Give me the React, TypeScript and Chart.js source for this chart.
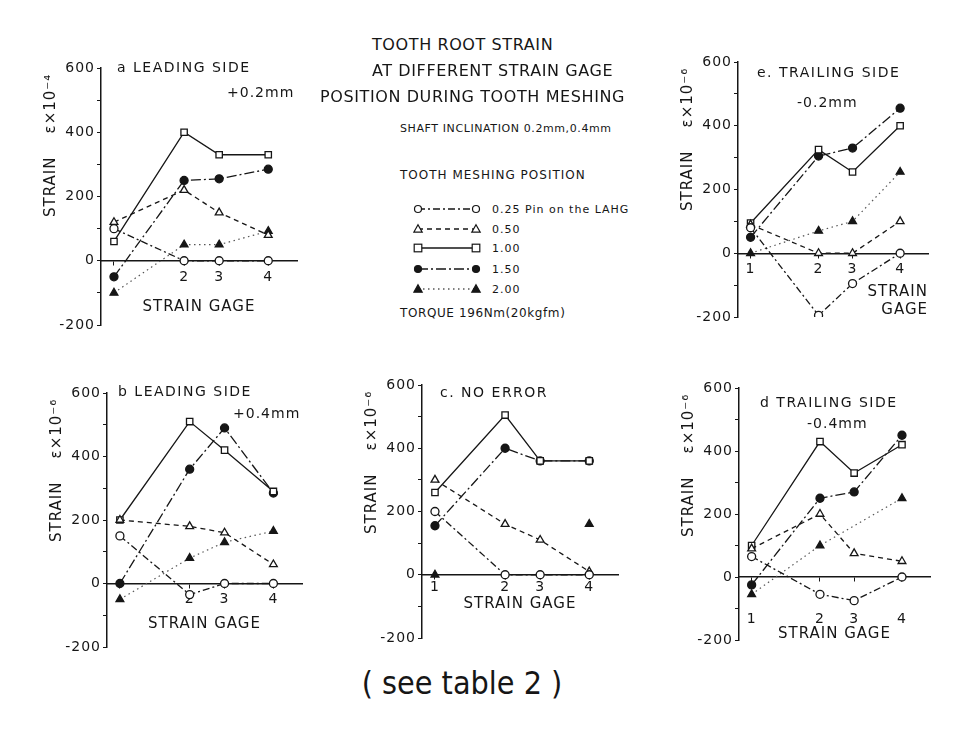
import React, { useEffect, useRef } from 'react';
import { Chart, registerables } from 'chart.js';

Chart.register(...registerables);

const FONT = '"DejaVu Sans", "Liberation Sans", Arial, sans-serif';
const INK = '#161616';

// strain gage positions along the tooth root (gage 2-3-4 are closer together)
const gaugeLabels = ['1', '2', '3', '4'];
const gaugePos = [1, 3, 4, 5.4];
const yMin = -200;
const yMax = 600;
const yStep = 100;
const yLabelStep = 200;

// tooth meshing positions (legend)
const meshLabels = ['0.25 Pin on the LAHG', '0.50', '1.00', '1.50', '2.00'];

// a. leading side +0.2mm
const a025 = [100, 0, 0, 0];
const a050 = [120, 220, 150, 80];
const a100 = [60, 400, 330, 330];
const a150 = [-50, 250, 255, 285];
const a200 = [-100, 50, 50, 92];

// b. leading side +0.4mm
const b025 = [150, -35, 0, 0];
const b050 = [200, 180, 160, 60];
const b100 = [200, 510, 420, 290];
const b150 = [0, 360, 490, 285];
const b200 = [-50, 80, 130, 165];

// c. no error
const c025 = [200, 0, 0, 0];
const c050 = [300, 160, 110, 10];
const c100 = [260, 505, 360, 360];
const c150 = [155, 400, 360, 360];
const c200 = [0, null, null, 160];

// d. trailing side -0.4mm
const d025 = [65, -55, -75, 0];
const d050 = [90, 200, 75, 50];
const d100 = [100, 430, 330, 420];
const d150 = [-25, 250, 270, 450];
const d200 = [-55, 100, null, 250];

// e. trailing side -0.2mm
const e025 = [80, -195, -95, 0];
const e050 = [90, 0, 0, 100];
const e100 = [95, 325, 255, 400];
const e150 = [50, 305, 330, 455];
const e200 = [0, 70, 100, 255];

const seriesStyles = [
  { point: 'circle', fill: false, dash: [7, 3, 2, 3], r: 4 },
  { point: 'triangle', fill: false, dash: [5, 4], r: 4.5 },
  { point: 'rect', fill: false, dash: [], r: 4.5 },
  { point: 'circle', fill: true, dash: [10, 3, 2, 3], r: 4 },
  { point: 'triangle', fill: true, dash: [1.5, 3.5], r: 4.5 },
];

type Panel = {
  id: string;
  series: (number | null)[][];
  xLabels: string[];
  yTitle: string;
  xTitle: string | string[];
  xTitleAlign: 'center' | 'end';
  l: number; r: number; t: number; b: number;
  tickPad: number;
  xTitleH: number;
  spanGaps: boolean;
};

const Y_W = 59;
const PAD_T = 12;
const PAD_R = 10;
const PAD_B = 14;

const panels: Panel[] = [
  { id: 'a', series: [a025, a050, a100, a150, a200], xLabels: ['', '2', '3', '4'],
    yTitle: 'STRAIN    ε×10⁻⁴ ', xTitle: 'STRAIN GAGE', xTitleAlign: 'center',
    l: 101, r: 297, t: 68, b: 325, tickPad: 4, xTitleH: 55, spanGaps: true },
  { id: 'b', series: [b025, b050, b100, b150, b200], xLabels: ['', '2', '3', '4'],
    yTitle: 'STRAIN    ε×10⁻⁶ ', xTitle: 'STRAIN GAGE', xTitleAlign: 'center',
    l: 107, r: 302, t: 393, b: 647, tickPad: 3, xTitleH: 50, spanGaps: true },
  { id: 'c', series: [c025, c050, c100, c150, c200], xLabels: gaugeLabels,
    yTitle: 'STRAIN    ε×10⁻⁶ ', xTitle: 'STRAIN GAGE', xTitleAlign: 'center',
    l: 422, r: 618, t: 385, b: 638, tickPad: 0, xTitleH: 38, spanGaps: false },
  { id: 'd', series: [d025, d050, d100, d150, d200], xLabels: gaugeLabels,
    yTitle: 'STRAIN    ε×10⁻⁶ ', xTitle: 'STRAIN GAGE', xTitleAlign: 'center',
    l: 739, r: 930, t: 388, b: 640, tickPad: 30, xTitleH: 66, spanGaps: true },
  { id: 'e', series: [e025, e050, e100, e150, e200], xLabels: gaugeLabels,
    yTitle: 'STRAIN    ε×10⁻⁶ ', xTitle: ['STRAIN', 'GAGE'], xTitleAlign: 'end',
    l: 738, r: 928, t: 62, b: 317, tickPad: 4, xTitleH: 66, spanGaps: true },
];

const spacingPlugin = {
  id: 'letterSpacing',
  beforeDraw(chart: any) { chart.ctx.letterSpacing = '1px'; },
  afterDraw(chart: any) { chart.ctx.letterSpacing = '0px'; },
};

function StrainPanel({ p }: { p: Panel }) {
  const ref = useRef<HTMLCanvasElement | null>(null);
  const left = p.l - Y_W;
  const top = p.t - PAD_T;
  const width = p.r - p.l + Y_W + PAD_R;
  const height = p.b - p.t + PAD_T + PAD_B;

  useEffect(() => {
    if (!ref.current) return;
    const chart = new Chart(ref.current, {
      type: 'line',
      data: {
        datasets: p.series.map((vals, si) => {
          const st = seriesStyles[si];
          return {
            label: meshLabels[si],
            data: vals.map((v, i) => ({ x: gaugePos[i], y: v })),
            borderColor: si === 4 ? '#555' : INK,
            borderWidth: si === 4 ? 1.2 : 1.3,
            borderDash: st.dash,
            pointStyle: st.point,
            pointRadius: st.r,
            pointBackgroundColor: st.fill ? INK : '#ffffff',
            pointBorderColor: INK,
            pointBorderWidth: 1.3,
            tension: 0,
            fill: false,
            spanGaps: p.spanGaps,
          } as any;
        }),
      },
      options: {
        animation: false,
        responsive: false,
        devicePixelRatio: 1,
        layout: { padding: { left: 0, top: PAD_T, right: PAD_R, bottom: PAD_B } },
        plugins: { legend: { display: false }, tooltip: { enabled: false } },
        scales: {
          x: {
            type: 'linear',
            position: { y: 0 } as any,
            min: 0.63,
            max: 6.22,
            afterBuildTicks: (s: any) => { s.ticks = gaugePos.map((v) => ({ value: v })); },
            afterFit: (s: any) => { s.height = p.xTitleH; },
            grid: { drawOnChartArea: false, drawTicks: true, tickLength: 4, color: INK },
            border: { display: true, color: INK, width: 1.5 },
            ticks: {
              autoSkip: false, maxRotation: 0, padding: p.tickPad, color: INK,
              font: { family: FONT, size: 14 },
              callback: (_v: any, i: number) => p.xLabels[i],
            },
            title: {
              display: true, text: p.xTitle, align: p.xTitleAlign, color: INK,
              font: { family: FONT, size: 15 }, padding: 0,
            },
          },
          y: {
            type: 'linear',
            position: 'left',
            min: yMin,
            max: yMax,
            afterFit: (s: any) => { s.width = Y_W; },
            grid: { drawOnChartArea: false, drawTicks: true, tickLength: 4, color: INK },
            border: { display: true, color: INK, width: 1.5 },
            ticks: {
              stepSize: yStep, autoSkip: false, padding: 2, color: INK,
              font: { family: FONT, size: 14 },
              callback: (v: any) => (Number(v) % yLabelStep === 0 ? String(v) : ''),
            },
            title: {
              display: true, text: p.yTitle, align: 'end', color: INK,
              font: { family: FONT, size: 15 }, padding: 0,
            },
          },
        },
      } as any,
      plugins: [spacingPlugin],
    });
    return () => chart.destroy();
  }, [p]);

  return (
    <canvas
      ref={ref}
      width={width}
      height={height}
      style={{ position: 'absolute', left, top, width, height }}
    />
  );
}

function Txt({ x, y, size, ls = 1, center = false, children, family }: any) {
  return (
    <div
      style={{
        position: 'absolute', left: x, top: y,
        transform: center ? 'translate(-50%, -50%)' : 'translateY(-50%)',
        fontSize: size, lineHeight: 1, letterSpacing: ls, whiteSpace: 'pre',
        fontFamily: family || FONT, color: INK,
      }}
    >
      {children}
    </div>
  );
}

function LegendSample({ idx, y }: { idx: number; y: number }) {
  const st = seriesStyles[idx];
  const x1 = 5, x2 = 63, cy = 7;
  const fill = st.fill ? INK : '#fff';
  const marker = (cx: number) => {
    if (st.point === 'circle') return <circle cx={cx} cy={cy} r={3.5} fill={fill} stroke={INK} strokeWidth={1.2} />;
    if (st.point === 'rect') return <rect x={cx - 3.8} y={cy - 3.8} width={7.6} height={7.6} fill={fill} stroke={INK} strokeWidth={1.2} />;
    return <polygon points={`${cx},${cy - 4.2} ${cx + 4.2},${cy + 3.2} ${cx - 4.2},${cy + 3.2}`} fill={fill} stroke={INK} strokeWidth={1.2} />;
  };
  return (
    <svg width={70} height={14} style={{ position: 'absolute', left: 413, top: y - 7 }}>
      <line x1={x1} y1={cy} x2={x2} y2={cy} stroke={idx === 4 ? '#555' : INK} strokeWidth={1.3}
        strokeDasharray={st.dash.length ? st.dash.join(' ') : undefined} />
      {marker(x1)}
      {marker(x2)}
    </svg>
  );
}

const legendRowsY = [209, 229, 248, 269, 289];

export default function App() {
  return (
    <div style={{ position: 'absolute', left: 0, top: 0, width: 965, height: 737, background: '#fff', overflow: 'hidden' }}>
      {panels.map((p) => <StrainPanel key={p.id} p={p} />)}

      <Txt x={117} y={67} size={14} ls={1.5}>a LEADING SIDE</Txt>
      <Txt x={227} y={92} size={14} ls={1}>+0.2mm</Txt>
      <Txt x={757} y={72} size={14} ls={1.5}>e. TRAILING SIDE</Txt>
      <Txt x={797} y={102} size={14} ls={1}>-0.2mm</Txt>
      <Txt x={118} y={391} size={14} ls={1.5}>b LEADING SIDE</Txt>
      <Txt x={233} y={413} size={14} ls={1}>+0.4mm</Txt>
      <Txt x={440} y={392} size={14} ls={1.5}>c. NO ERROR</Txt>
      <Txt x={760} y={402} size={14} ls={1.5}>d TRAILING SIDE</Txt>
      <Txt x={807} y={423} size={14} ls={1}>-0.4mm</Txt>

      <Txt x={372} y={45} size={16} ls={0.6}>TOOTH ROOT STRAIN</Txt>
      <Txt x={372} y={71} size={16} ls={0.6}>AT DIFFERENT STRAIN GAGE</Txt>
      <Txt x={320} y={97} size={16} ls={0.6}>POSITION DURING TOOTH MESHING</Txt>
      <Txt x={400} y={128} size={11} ls={0.6}>SHAFT INCLINATION 0.2mm,0.4mm</Txt>
      <Txt x={400} y={175} size={12} ls={1}>TOOTH MESHING POSITION</Txt>
      {meshLabels.map((lab, i) => (
        <React.Fragment key={lab}>
          <LegendSample idx={i} y={legendRowsY[i]} />
          <Txt x={492} y={legendRowsY[i]} size={11} ls={1}>{lab}</Txt>
        </React.Fragment>
      ))}
      <Txt x={400} y={313} size={12} ls={0.6}>TORQUE 196Nm(20kgfm)</Txt>

      <Txt x={462} y={683} size={32} ls={0} center family={'"DejaVu Sans Condensed", "Liberation Sans Narrow", "DejaVu Sans", sans-serif'}>( see table 2 )</Txt>
    </div>
  );
}
